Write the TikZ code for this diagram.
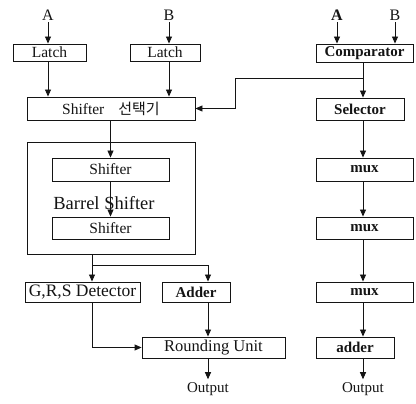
\documentclass[tikz,border=0pt]{standalone}
\usepackage{fontspec}
\setmainfont{Liberation Serif}
\newfontfamily\kofont{Noto Sans CJK KR}
\usetikzlibrary{arrows.meta,positioning}
\definecolor{ink}{HTML}{141414}
\tikzset{
  blockbox/.style={draw=ink,line width=0.9pt,inner sep=0pt,text=ink,font=\fontsize{15.5}{17}\selectfont},
  boldbox/.style={blockbox,font=\fontsize{15}{17}\selectfont\bfseries},
  framebox/.style={draw=ink,line width=0.9pt,inner sep=0pt},
  inlabel/.style={text=ink,inner sep=2pt,font=\fontsize{16}{18}\selectfont},
  outlabel/.style={text=ink,inner sep=3pt,font=\fontsize{15}{17}\selectfont},
  arrow/.style={-{Triangle[length=7pt,width=6pt]},line width=0.9pt,draw=ink},
  wire/.style={line width=0.9pt,draw=ink}
}

\begin{document}
\begin{tikzpicture}[x=1pt,y=-1pt]
    \useasboundingbox (0,0) rectangle (416,404);
    \def\rx{363}

    \node[inlabel] (inA) at (48,15) {A};
    \node[inlabel] (inB) at (169,15) {B};
    \node[inlabel,font=\fontsize{16}{18}\selectfont\bfseries] (cmpA) at (337,15) {A};
    \node[inlabel] (cmpB) at (395,15) {B};

    \node[blockbox,minimum width=73pt,minimum height=17pt] (latchA) at (49.5,52.5) {Latch};
    \node[blockbox,minimum width=70pt,minimum height=17pt] (latchB) at (165,52.5) {Latch};
    \node[blockbox,minimum width=168pt,minimum height=23pt] (shsel) at (111,108.5) {Shifter\hspace{14pt}{\kofont\fontsize{15}{17}\selectfont 선택기}\hspace{8pt}};
    \node[framebox,minimum width=168pt,minimum height=112pt] (barrel) at (111,198) {};
    \node[blockbox,minimum width=117pt,minimum height=23pt] (shift1) at (110.5,169.5) {Shifter};
    \node[inlabel,font=\fontsize{18.5}{20}\selectfont] (barlbl) at (104,203) {Barrel Shifter};
    \node[blockbox,minimum width=117pt,minimum height=22pt] (shift2) at (110.5,228) {Shifter};
    \node[blockbox,minimum width=115pt,minimum height=20pt,font=\fontsize{17.5}{19}\selectfont] (grs) at (82.5,292) {G,R,S Detector};
    \node[boldbox,minimum width=68pt,minimum height=20pt] (adder) at (196,292) {Adder};
    \node[blockbox,minimum width=143pt,minimum height=21pt,font=\fontsize{16.5}{18}\selectfont] (round) at (213.5,347.5) {Rounding Unit\hspace{10pt}};
    \node[outlabel] (outL) at (208,389) {Output};

    \node[boldbox,minimum width=97pt,minimum height=18pt] (comp) at (364.5,53) {Comparator};
    \node[boldbox,minimum width=88pt,minimum height=22pt] (select) at (360,109) {Selector};
    \node[boldbox,minimum width=97pt,minimum height=23pt] (muxA) at (364.5,169.5) {mux};
    \node[boldbox,minimum width=97pt,minimum height=22pt] (muxB) at (364.5,228) {mux};
    \node[boldbox,minimum width=97pt,minimum height=20pt] (muxC) at (364.5,292) {mux};
    \node[boldbox,minimum width=78pt,minimum height=21pt] (sum) at (355,347.5) {adder};
    \node[outlabel] (outR) at (\rx,389) {Output};

    \coordinate (tap) at (\rx,78);
    \coordinate (bend) at (235,78);
    \coordinate (split) at (92,265);
    \coordinate (splitR) at (208,265);

    \draw[arrow] (inA) -- (latchA.north -| inA);
    \draw[arrow] (inB) -- (latchB.north -| inB);
    \draw[arrow] (latchA.south -| inA) -- (shsel.north -| inA);
    \draw[arrow] (latchB.south -| inB) -- (shsel.north -| inB);
    \draw[arrow] (cmpA) -- (comp.north -| cmpA);
    \draw[arrow] (cmpB) -- (comp.north -| cmpB);
    \draw[arrow] (comp.south -| tap) -- (select.north -| tap);
    \draw[arrow] (tap) -- (bend) |- (shsel.east);

    \draw[arrow] (shsel.south -| shift1) -- (shift1.north);
    \draw[arrow] (shift1) -- (shift2);
    \draw[wire] (barrel.south -| split) -- (split);
    \draw[arrow] (split) -- (grs.north -| split);
    \draw[arrow] (split) -- (splitR) -- (adder.north -| splitR);
    \draw[arrow] (grs.south -| split) |- (round.west);
    \draw[arrow] (adder.south -| splitR) -- (round.north -| splitR);
    \draw[arrow] (round.south -| splitR) -- (outL.north);

    \foreach \a/\b in {select/muxA,muxA/muxB,muxB/muxC,muxC/sum} {
      \draw[arrow] (\a.south -| tap) -- (\b.north -| tap);
    }
    \draw[arrow] (sum.south -| tap) -- (outR.north);
  \end{tikzpicture}
\end{document}
